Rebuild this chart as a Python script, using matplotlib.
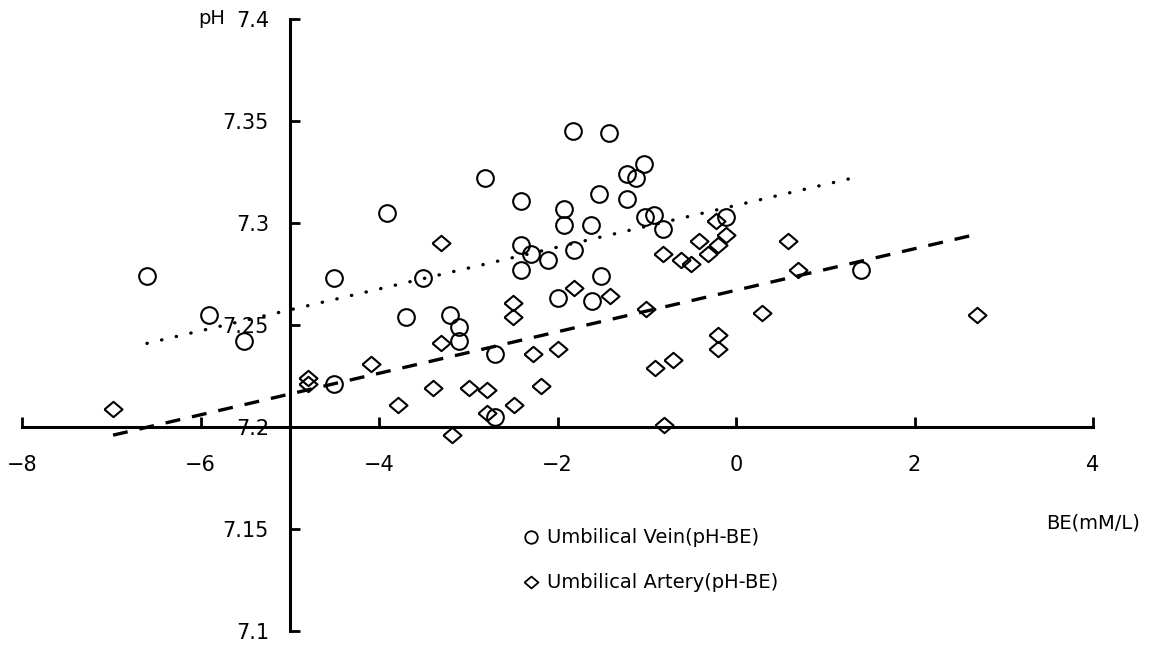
"""
Relation pH / BE au cordon ombilical (veine et artere).
Nuage de points + droites de tendance, axes croises en (BE=-5, pH=7.2).
"""
import matplotlib
matplotlib.use("Agg")
import matplotlib.pyplot as plt

# --- donnees ---
vein_be = [-6.60, -5.91, -5.51, -4.50, -4.50, -3.91, -3.51, -3.70, -3.20, -3.10,
           -3.10, -2.70, -2.70, -2.81, -2.41, -2.41, -2.30, -2.11, -2.41, -1.83,
           -1.42, -1.93, -1.93, -1.62, -1.53, -1.22, -1.22, -1.12, -1.03, -1.81,
           -1.51, -1.99, -1.61, -1.02, -0.92, -0.82, -0.11, 1.40]
vein_ph = [7.274, 7.255, 7.242, 7.273, 7.221, 7.305, 7.273, 7.254, 7.255, 7.249,
           7.242, 7.236, 7.205, 7.322, 7.311, 7.289, 7.285, 7.282, 7.277, 7.345,
           7.344, 7.307, 7.299, 7.299, 7.314, 7.312, 7.324, 7.322, 7.329, 7.287,
           7.274, 7.263, 7.262, 7.303, 7.304, 7.297, 7.303, 7.277]

art_be = [-6.98, -4.79, -4.79, -4.09, -3.79, -3.30, -3.30, -3.39, -2.99, -2.79,
          -2.79, -3.18, -2.50, -2.50, -2.49, -2.18, -2.28, -1.99, -1.81, -1.41,
          -1.01, -0.91, -0.71, -0.81, -0.82, -0.62, -0.50, -0.41, -0.31, -0.20,
          -0.11, -0.22, 0.29, -0.20, -0.20, 0.58, 0.69, 2.70]
art_ph = [7.209, 7.224, 7.221, 7.231, 7.211, 7.290, 7.241, 7.219, 7.219, 7.218,
          7.207, 7.196, 7.261, 7.254, 7.211, 7.220, 7.236, 7.238, 7.268, 7.264,
          7.258, 7.229, 7.233, 7.201, 7.285, 7.282, 7.280, 7.291, 7.285, 7.289,
          7.294, 7.301, 7.256, 7.245, 7.238, 7.291, 7.277, 7.255]

# droites de tendance (extremites)
vein_fit_be = [-6.60, 1.40]
vein_fit_ph = [7.241, 7.323]
art_fit_be = [-6.98, 2.65]
art_fit_ph = [7.196, 7.294]

x_ticks = [-8, -6, -4, -2, 0, 2, 4]
y_ticks = [7.1, 7.15, 7.2, 7.25, 7.3, 7.35, 7.4]
y_labels = ["7.1", "7.15", "7.2", "7.25", "7.3", "7.35", "7.4"]

labels = ["Umbilical Vein(pH-BE)", "Umbilical Artery(pH-BE)"]

DIAMOND = [(-1, 0), (0, 0.85), (1, 0), (0, -0.85), (-1, 0)]


def main():
    plt.rcParams["font.family"] = "DejaVu Sans"
    fig = plt.figure(figsize=(11.69, 6.45), dpi=100)
    ax = fig.add_axes([22 / 1169, 14 / 645, 1071 / 1169, 612 / 645])

    ax.set_xlim(-8, 4)
    ax.set_ylim(7.1, 7.4)

    for side in ["top", "right"]:
        ax.spines[side].set_visible(False)
    ax.spines["left"].set_position(("data", -5))
    ax.spines["bottom"].set_position(("data", 7.2))
    for side in ["left", "bottom"]:
        ax.spines[side].set_linewidth(2.2)

    ax.set_xticks(x_ticks)
    ax.set_xticklabels(["\u2212%d" % abs(v) if v < 0 else "%d" % v for v in x_ticks])
    ax.set_yticks(y_ticks)
    ax.set_yticklabels(y_labels)
    ax.tick_params(axis="x", direction="in", length=7, width=2, pad=20, labelsize=15)
    ax.tick_params(axis="y", direction="in", length=7, width=2, pad=15, labelsize=15)

    # droites
    ax.plot(vein_fit_be, vein_fit_ph, color="black", lw=2.4,
            linestyle=(0, (0.1, 4.4)), dash_capstyle="round")
    ax.plot(art_fit_be, art_fit_ph, color="black", lw=2.4,
            linestyle=(0, (4.5, 3.6)), dash_capstyle="butt")

    # points
    ax.plot(vein_be, vein_ph, linestyle="none", marker="o", markersize=12,
            markerfacecolor="none", markeredgecolor="black", markeredgewidth=1.5,
            clip_on=False)
    ax.plot(art_be, art_ph, linestyle="none", marker=DIAMOND, markersize=13,
            markerfacecolor="none", markeredgecolor="black", markeredgewidth=1.5,
            clip_on=False)

    # legende manuelle
    leg_y = [7.146, 7.124]
    ax.plot([-2.30], [leg_y[0]], linestyle="none", marker="o", markersize=9,
            markerfacecolor="none", markeredgecolor="black", markeredgewidth=1.3,
            clip_on=False)
    ax.plot([-2.30], [leg_y[1]], linestyle="none", marker=DIAMOND, markersize=10,
            markerfacecolor="none", markeredgecolor="black", markeredgewidth=1.3,
            clip_on=False)
    for y, lab in zip(leg_y, labels):
        ax.text(-2.12, y, lab, fontsize=14, va="center", ha="left")

    ax.text(-5.87, 7.4, "pH", fontsize=14, va="center", ha="center")
    ax.text(4.0, 7.153, "BE(mM/L)", fontsize=14, va="center", ha="center")

    fig.savefig("out.png", dpi=100)
    plt.close(fig)


if __name__ == "__main__":
    main()
